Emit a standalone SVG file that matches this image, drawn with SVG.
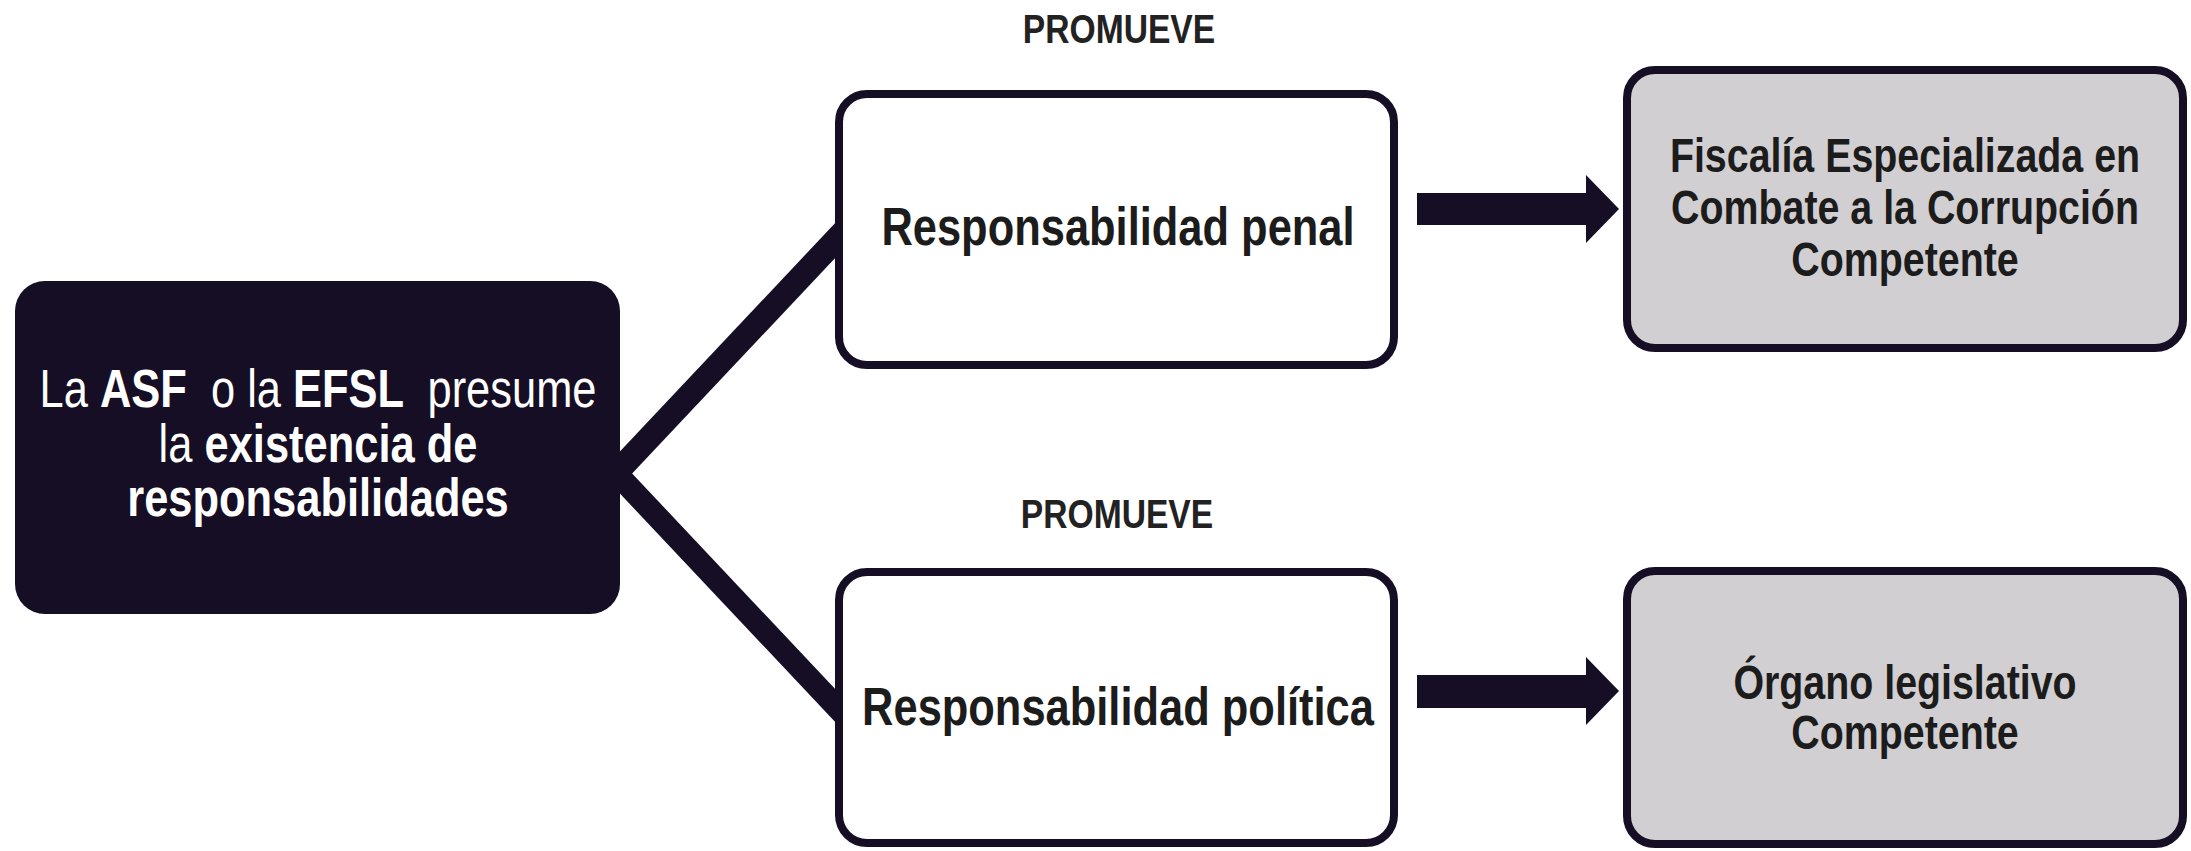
<svg xmlns="http://www.w3.org/2000/svg" width="2191" height="851" viewBox="0 0 2191 851">
<style>
.t{font-family:"Liberation Sans",Arial,sans-serif;font-weight:bold;text-anchor:middle}
.lbl{font-size:53px;fill:#1c1c1c}
.gl{font-size:48px;fill:#1c1c1c}
.pm{font-size:41px;fill:#222222}
.wt{font-size:53px;fill:#ffffff}
.r{font-weight:normal}
.box{fill:#ffffff;stroke:#150e24;stroke-width:8}
.gbox{fill:#d1cfd1;stroke:#150e24;stroke-width:8}
.dk{fill:#150e24}
</style>
<rect width="2191" height="851" fill="#ffffff"/>
<g id="connectors">
<polygon class="dk" points="610,462 838,220 838,255 610,497"/>
<polygon class="dk" points="610,450 838,692 838,725 610,483"/>
<polygon class="dk" points="1417,193 1586,193 1586,175 1619,209 1586,243 1586,225 1417,225"/>
<polygon class="dk" points="1417,675 1586,675 1586,657 1619,691 1586,725 1586,708 1417,708"/>
</g>
<g id="node-asf">
<rect class="dk" x="15" y="281" width="605" height="333" rx="30"/>
<g transform="translate(318,407) scale(0.82,1)">
<text class="t wt" x="0" y="0" xml:space="preserve"><tspan class="r">La </tspan>ASF  <tspan class="r">o la </tspan>EFSL  <tspan class="r">presume</tspan></text>
</g>
<g transform="translate(318,462) scale(0.82,1)">
<text class="t wt" x="0" y="0"><tspan class="r">la </tspan>existencia de</text>
</g>
<g transform="translate(318,516) scale(0.82,1)">
<text class="t wt" x="0" y="0">responsabilidades</text>
</g>
</g>
<g id="label-promueve-1" transform="translate(1119,43) scale(0.82,1)">
<text class="t pm" x="0" y="0">PROMUEVE</text>
</g>
<g id="label-promueve-2" transform="translate(1117,528) scale(0.82,1)">
<text class="t pm" x="0" y="0">PROMUEVE</text>
</g>
<g id="node-penal">
<rect class="box" x="839" y="94" width="555" height="271" rx="28"/>
<g transform="translate(1118,245) scale(0.82,1)">
<text class="t lbl" x="0" y="0">Responsabilidad penal</text>
</g>
</g>
<g id="node-politica">
<rect class="box" x="839" y="572" width="555" height="271" rx="28"/>
<g transform="translate(1118,725) scale(0.82,1)">
<text class="t lbl" x="0" y="0">Responsabilidad política</text>
</g>
</g>
<g id="node-fiscalia">
<rect class="gbox" x="1627" y="70" width="556" height="278" rx="28"/>
<g transform="translate(1905,0) scale(0.82,1)">
<text class="t gl" x="0" y="172">Fiscalía Especializada en</text>
<text class="t gl" x="0" y="224">Combate a la Corrupción</text>
<text class="t gl" x="0" y="276">Competente</text>
</g>
</g>
<g id="node-organo">
<rect class="gbox" x="1627" y="571" width="556" height="273" rx="28"/>
<g transform="translate(1905,0) scale(0.82,1)">
<text class="t gl" x="0" y="699">Órgano legislativo</text>
<text class="t gl" x="0" y="749">Competente</text>
</g>
</g>
</svg>
